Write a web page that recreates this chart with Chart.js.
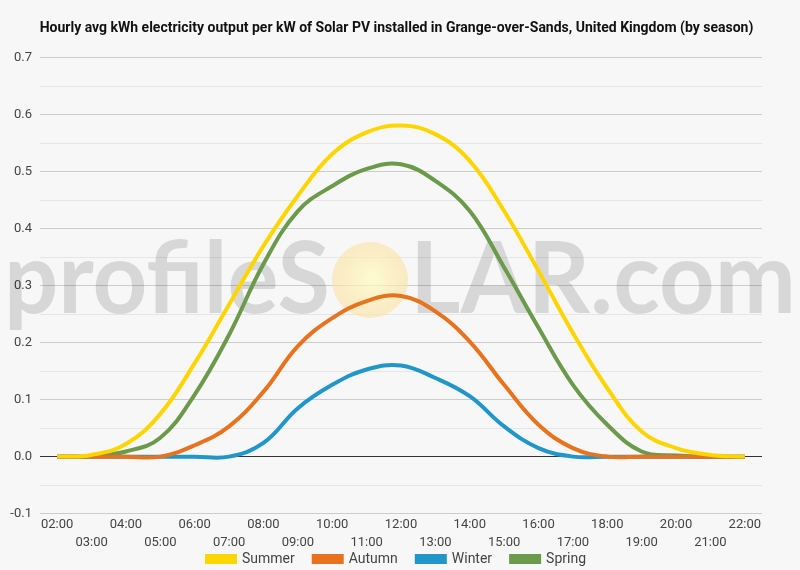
<!DOCTYPE html>
<html>
<head>
<meta charset="utf-8">
<script src="https://cdn.jsdelivr.net/npm/chart.js@4.4.0/dist/chart.umd.min.js"></script>
<style>
  html, body { margin: 0; padding: 0; background: #f7f7f7; }
  #wrap { width: 800px; height: 570px; }
</style>
</head>
<body>
<div id="wrap"><canvas id="myChart" width="800" height="570"></canvas></div>
<script>
// hourly values
const hours = ['02:00', '03:00', '04:00', '05:00', '06:00', '07:00', '08:00', '09:00', '10:00', '11:00', '12:00',
               '13:00', '14:00', '15:00', '16:00', '17:00', '18:00', '19:00', '20:00', '21:00', '22:00'];
const summer = [0, 0.003, 0.022, 0.075, 0.164, 0.267, 0.37, 0.458, 0.531, 0.569, 0.581,
                0.566, 0.519, 0.431, 0.326, 0.217, 0.12, 0.044, 0.015, 0.003, 0];
const autumn = [0, 0, 0, 0, 0.02, 0.053, 0.114, 0.194, 0.243, 0.273, 0.282,
                0.255, 0.202, 0.126, 0.056, 0.015, 0, 0, 0, 0, 0];
const winter = [0, 0, 0, 0, 0, 0, 0.024, 0.085, 0.126, 0.153, 0.16,
                0.138, 0.106, 0.053, 0.015, 0, 0, 0, 0, 0, 0];
const spring = [0, 0.001, 0.009, 0.033, 0.109, 0.214, 0.338, 0.431, 0.475, 0.505, 0.513,
                0.484, 0.431, 0.332, 0.226, 0.126, 0.056, 0.009, 0.002, 0, 0];
const yTicks = [-0.1, 0, 0.1, 0.2, 0.3, 0.4, 0.5, 0.6, 0.7];

Chart.defaults.font.family = 'Roboto, sans-serif';

const LEGEND_PAD = 19;

const bgPlugin = {
    id: 'bg',
    beforeDraw(chart) {
        const c = chart.ctx;
        c.save();
        c.fillStyle = '#f7f7f7';
        c.fillRect(0, 0, chart.width, chart.height);
        c.restore();
    }
};

// keep the wide gaps between legend items but not the tall box they bring
const legendFix = {
    id: 'legendFix',
    beforeLayout(chart) {
        const lg = chart.legend;
        if (lg && !lg._fixed) {
            const fit = lg.fit;
            lg.fit = function() {
                fit.call(this);
                this.height = 16;
            };
            lg._fixed = true;
        }
    },
    afterLayout(chart) {
        const lg = chart.legend;
        if (lg) {
            lg.top -= 21;
            lg.height = lg.bottom - lg.top;
        }
    }
};

// profileSOLAR watermark behind the lines
const watermark = {
    id: 'watermark',
    beforeDatasetsDraw(chart) {
        const c = chart.ctx;
        c.save();
        c.font = 'bold 100px Lato';
        c.fillStyle = 'rgba(0,0,0,0.13)';
        c.textBaseline = 'alphabetic';
        function piece(txt, x, w) {
            const m = c.measureText(txt).width;
            c.save();
            c.translate(x, 313);
            c.scale(w / m, 1);
            c.fillText(txt, 0, 0);
            c.restore();
        }
        piece('profileS', 4, 326);
        piece('LAR.com', 410, 386);
        const g = c.createRadialGradient(372, 278, 4, 370, 280, 38);
        g.addColorStop(0, 'rgba(255,250,195,0.75)');
        g.addColorStop(1, 'rgba(250,225,160,0.6)');
        c.fillStyle = g;
        c.beginPath();
        c.arc(370, 280, 38, 0, Math.PI * 2);
        c.fill();
        c.restore();
    }
};

function isMajor(v) {
    return Math.abs(Math.round(v * 100)) % 10 === 0;
}

const ctx = document.getElementById('myChart').getContext('2d');
const myChart = new Chart(ctx, {
    type: 'line',
    data: {
        labels: hours,
        datasets: [
            { label: 'Summer', data: summer, borderColor: '#ffd500', backgroundColor: '#ffd500' },
            { label: 'Autumn', data: autumn, borderColor: '#e8731f', backgroundColor: '#e8731f' },
            { label: 'Winter', data: winter, borderColor: '#2196c9', backgroundColor: '#2196c9' },
            { label: 'Spring', data: spring, borderColor: '#6b9a4b', backgroundColor: '#6b9a4b' }
        ]
    },
    options: {
        responsive: false,
        animation: false,
        devicePixelRatio: 1,
        elements: {
            line: { borderWidth: 4, tension: 0.4, fill: false },
            point: { radius: 0 }
        },
        layout: { padding: { left: 0, right: 7, top: 10, bottom: 0 } },
        plugins: {
            title: {
                display: true,
                text: 'Hourly avg kWh electricity output per kW of Solar PV installed in Grange-over-Sands, United Kingdom (by season)',
                color: '#111',
                font: { size: 14, weight: 'bold' },
                padding: { top: 10, bottom: 21 }
            },
            legend: {
                position: 'bottom',
                labels: {
                    boxWidth: 28,
                    boxHeight: 6,
                    padding: LEGEND_PAD,
                    color: '#444',
                    font: { size: 14 }
                }
            },
            tooltip: { enabled: false }
        },
        scales: {
            x: {
                offset: true,
                grid: { display: false, drawTicks: false },
                border: { display: false },
                ticks: {
                    autoSkip: false,
                    maxRotation: 0,
                    color: '#444',
                    font: { size: 13, lineHeight: 1.4 },
                    padding: 2,
                    callback: function(val, i) {
                        const l = hours[i];
                        return i % 2 === 0 ? [l] : ['', l];
                    }
                }
            },
            y: {
                min: yTicks[0],
                max: yTicks[yTicks.length - 1],
                afterFit: s => { s.width = 40; },
                border: { display: false },
                grid: {
                    drawTicks: false,
                    lineWidth: 1,
                    color: c => {
                        const v = c.tick.value;
                        if (Math.abs(v) < 1e-9) return '#333';
                        return isMajor(v) ? '#cccccc' : '#e6e6e6';
                    }
                },
                ticks: {
                    stepSize: 0.05,
                    color: '#444',
                    padding: 8,
                    font: { size: 13 },
                    callback: v => isMajor(v) ? (Math.round(v * 10) / 10).toFixed(1) : ''
                }
            },
            // empty right-hand axis, only keeps the plot clear of the right edge
            yRight: {
                position: 'right',
                afterFit: s => { s.width = 31; },
                grid: { display: false, drawTicks: false },
                border: { display: false },
                ticks: { display: false }
            }
        }
    },
    plugins: [bgPlugin, legendFix, watermark]
});
</script>
</body>
</html>
